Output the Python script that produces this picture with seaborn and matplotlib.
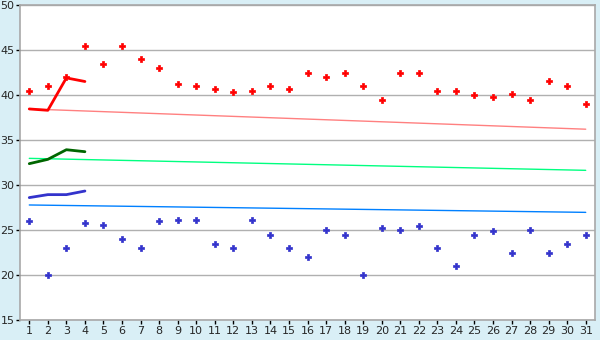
import numpy as np
import pandas as pd
import matplotlib
matplotlib.use('Agg')
import matplotlib.pyplot as plt
import seaborn as sns

# data
days = list(range(1, 32))
red_pts = [40.5, 41.0, 42.0, 45.5, 43.5, 45.5, 44.0, 43.0, 41.2, 41.0,
           40.7, 40.3, 40.5, 41.0, 40.7, 42.4, 42.0, 42.5, 41.0, 39.4,
           42.5, 42.5, 40.5, 40.5, 40.0, 39.75, 40.1, 39.5, 41.55, 41.0, 39.0]
blue_pts = [26.0, 20.0, 23.0, 25.75, 25.6, 24.0, 23.0, 26.0, 26.1, 26.1,
            23.4, 23.0, 26.1, 24.5, 23.0, 22.0, 25.0, 24.5, 20.0, 25.2,
            25.0, 25.5, 23.0, 21.0, 24.5, 24.85, 22.5, 25.0, 22.5, 23.5, 24.5]

first_days = [1, 2, 3, 4]
red_line = [38.45, 38.3, 41.9, 41.5]
green_line = [32.37, 32.85, 33.92, 33.7]
blue_line = [28.6, 28.93, 28.93, 29.33]

trend_days = [1, 31]
red_trend = [38.45, 36.2]
green_trend = [32.96, 31.63]
blue_trend = [27.78, 26.96]

bg = '#d9eff6'
sns.set_style('white')
plt.rcParams['font.family'] = ['DejaVu Sans']

fig = plt.figure(figsize=(6, 3.4), dpi=100, facecolor=bg)
ax = fig.add_axes([20/600, 20/340, 575/600, 315/340])
ax.set_facecolor('white')

# trend lines
sns.lineplot(x=trend_days, y=red_trend, color='#ff8080', linewidth=1, ax=ax)
sns.lineplot(x=trend_days, y=green_trend, color='#00ff80', linewidth=1, ax=ax)
sns.lineplot(x=trend_days, y=blue_trend, color='#0080ff', linewidth=1, ax=ax)

# first days lines
sns.lineplot(x=first_days, y=red_line, color='#ff0000', linewidth=2, ax=ax)
sns.lineplot(x=first_days, y=green_line, color='#006600', linewidth=2, ax=ax)
sns.lineplot(x=first_days, y=blue_line, color='#3333cc', linewidth=2, ax=ax)

# points
sns.scatterplot(x=days, y=red_pts, marker='P', s=16, color='#ff0000',
                edgecolor='#ff0000', linewidth=0.5, ax=ax)
sns.scatterplot(x=days, y=blue_pts, marker='P', s=16, color='#3333cc',
                edgecolor='#3333cc', linewidth=0.5, ax=ax)

ax.set_xlim(0.5, 31.5)
ax.set_ylim(15, 50)
ax.set_xticks(days)
ax.set_yticks([15, 20, 25, 30, 35, 40, 45, 50])
ax.yaxis.grid(True, color='#b0b0b0', linewidth=1)
ax.set_axisbelow(True)
for s in ax.spines.values():
    s.set_color('#a8a8a8')
    s.set_linewidth(1.2)
ax.tick_params(axis='both', which='both', direction='out', length=3, width=1,
               color='black', labelsize=8, pad=1, left=True, bottom=True)

fig.savefig('out.png', dpi=100, facecolor=bg)
